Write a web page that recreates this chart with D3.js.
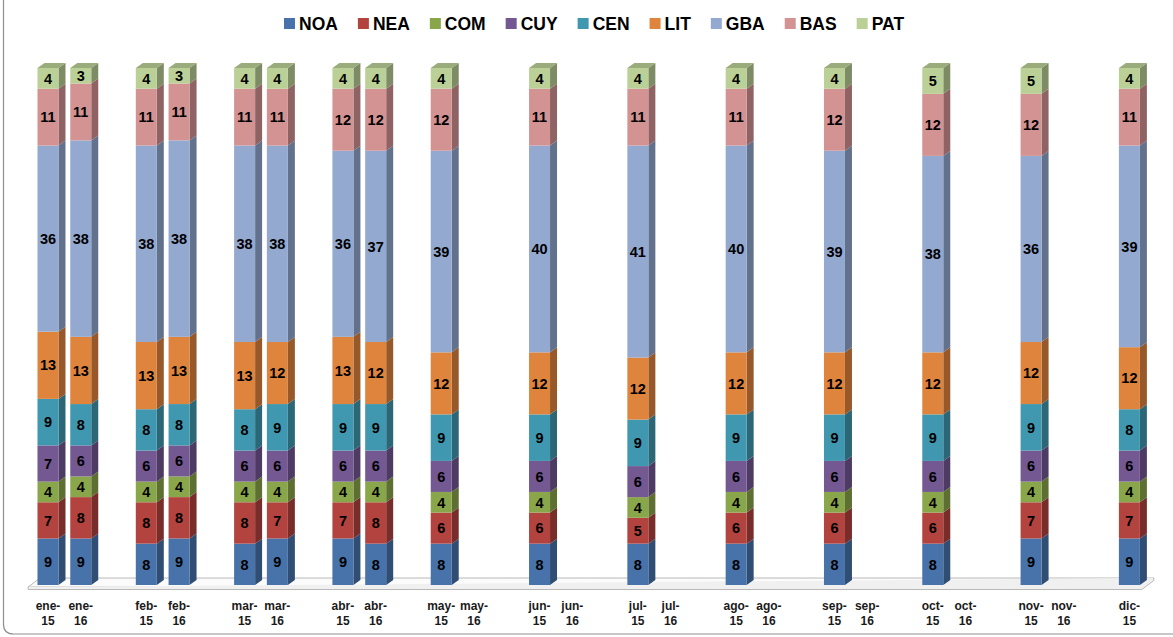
<!DOCTYPE html>
<html>
<head>
	<meta charset="utf-8">
	<title>regiones</title>
	<style>
		body{ margin:0; background:#fff; }
		text{ font-family:"Liberation Sans", Arial, sans-serif; }
		.lbl{ font-size:14.5px; font-weight:bold; fill:#000; }
		.xlab{ font-size:12px; font-weight:bold; fill:#1a1a1a; }
		.leg{ font-size:17.5px; font-weight:bold; fill:#000; }
	</style>
	<script src="https://d3js.org/d3.v7.min.js"></script>
</head>
<body>
<svg width="1173" height="637"></svg>
<script>

	// categories (empty -16 months have no bar)
	var categories = ["ene-15","ene-16","feb-15","feb-16","mar-15","mar-16","abr-15","abr-16",
	                  "may-15","may-16","jun-15","jun-16","jul-15","jul-16","ago-15","ago-16",
	                  "sep-15","sep-16","oct-15","oct-16","nov-15","nov-16","dic-15"];
	var months = ["ene","feb","mar","abr","may","jun","jul","ago","sep","oct","nov","dic"];
	var years = ["15","16"];

	var seriesNames = ["NOA","NEA","COM","CUY","CEN","LIT","GBA","BAS","PAT"];
	var seriesColors = ["#4773AA","#B3433F","#8AA64A","#735892","#3F98B0","#DF843C","#93A9D0","#D49393","#BBD097"];

	var NOA = [9,9,8,9,8,9,9,8,8,null,8,null,8,null,8,null,8,null,8,null,9,null,9];
	var NEA = [7,8,8,8,8,7,7,8,6,null,6,null,5,null,6,null,6,null,6,null,7,null,7];
	var COM = [4,4,4,4,4,4,4,4,4,null,4,null,4,null,4,null,4,null,4,null,4,null,4];
	var CUY = [7,6,6,6,6,6,6,6,6,null,6,null,6,null,6,null,6,null,6,null,6,null,6];
	var CEN = [9,8,8,8,8,9,9,9,9,null,9,null,9,null,9,null,9,null,9,null,9,null,8];
	var LIT = [13,13,13,13,13,12,13,12,12,null,12,null,12,null,12,null,12,null,12,null,12,null,12];
	var GBA = [36,38,38,38,38,38,36,37,39,null,40,null,41,null,40,null,39,null,38,null,36,null,39];
	var BAS = [11,11,11,11,11,11,12,12,12,null,11,null,11,null,11,null,12,null,12,null,12,null,11];
	var PAT = [4,3,4,3,4,4,4,4,4,null,4,null,4,null,4,null,4,null,5,null,5,null,4];

	var seriesValues = [NOA,NEA,COM,CUY,CEN,LIT,GBA,BAS,PAT];

	var svg = d3.select("svg"),
	    margin = {top:68, left:31.6, bottom:585},
	    slot = 32.77,
	    barW = 21,
	    dx = 7, dy = 5;

	// chart border (rounded corner bottom-left, other edges off the picture)
	svg.append("path")
	   .attr("d","M3.5,-10 L3.5,624 Q3.5,634 13.5,634 L1190,634")
	   .attr("fill","none")
	   .attr("stroke","#8f8f8f")
	   .attr("stroke-width",1.2);

	var x0 = d3.scaleBand().domain(months).range([margin.left, margin.left + slot*3*months.length]);
	var x1 = d3.scaleBand().domain(years.concat(["_"])).range([0, x0.bandwidth()]);
	var y = d3.scaleLinear().domain([0,1]).range([margin.bottom, margin.top]);

	function cx(cat){
		var p = cat.split("-");
		return x0(p[0]) + x1(p[1]) + x1.bandwidth()/2;
	}

	// floor
	var fl = margin.left - 3.5,
	    fr = cx("dic-15") + x1.bandwidth()/2 - 4,
	    fy = margin.bottom + 2, fdx = 12, fdy = 9;
	var floor = svg.append("g").attr("stroke","#b8b8b8").attr("stroke-width",1);
	floor.append("path")
	     .attr("d","M"+fl+","+fy+" L"+(fl+fdx)+","+(fy-fdy)+" L"+(fr+fdx)+","+(fy-fdy)+" L"+fr+","+fy+" Z")
	     .attr("fill","#fbfbfb");
	floor.append("path")
	     .attr("d","M"+fl+","+fy+" L"+fl+","+(fy+2.5)+" L"+fr+","+(fy+2.5)+" L"+(fr+fdx)+","+(fy-fdy+2.5)+" L"+(fr+fdx)+","+(fy-fdy))
	     .attr("fill","#f0f0f0");

	// table for stacking
	var rows = categories.map(function(c,i){
		var r = {cat:c};
		seriesNames.forEach(function(s,j){ r[s] = seriesValues[j][i] || 0; });
		return r;
	}).filter(function(r){ return seriesNames.some(function(s){ return r[s] > 0; }); });

	var stack = d3.stack().keys(seriesNames).offset(d3.stackOffsetExpand);
	var layers = stack(rows);

	var bars = svg.append("g");
	layers.forEach(function(layer, li){
		var col = seriesColors[li],
		    side = d3.color(col).darker(1.1).formatHex(),
		    top = d3.color(col).darker(0.55).formatHex();
		var g = bars.append("g");
		layer.forEach(function(d){
			var x = cx(d.data.cat) - barW/2,
			    y0 = y(d[0]), y1 = y(d[1]);
			g.append("path")
			 .attr("d","M"+(x+barW)+","+y1+" L"+(x+barW+dx)+","+(y1-dy)+" L"+(x+barW+dx)+","+(y0-dy)+" L"+(x+barW)+","+y0+" Z")
			 .attr("fill",side);
			g.append("rect")
			 .attr("x",x).attr("y",y1)
			 .attr("width",barW).attr("height",y0-y1)
			 .attr("fill",col);
			if(li === layers.length-1){
				g.append("path")
				 .attr("d","M"+x+","+y1+" L"+(x+dx)+","+(y1-dy)+" L"+(x+barW+dx)+","+(y1-dy)+" L"+(x+barW)+","+y1+" Z")
				 .attr("fill",top);
			}
			g.append("text")
			 .attr("class","lbl")
			 .attr("x",x+barW/2)
			 .attr("y",(y0+y1)/2)
			 .attr("dy","0.36em")
			 .attr("text-anchor","middle")
			 .text(d.data[seriesNames[li]]);
		});
	});

	// x labels
	var xl = svg.append("g");
	categories.forEach(function(c){
		var p = c.split("-"),
		    t = xl.append("text").attr("class","xlab").attr("text-anchor","middle");
		t.append("tspan").attr("x",cx(c)).attr("y",610).text(p[0]+"-");
		t.append("tspan").attr("x",cx(c)).attr("y",625).text(p[1]);
	});

	// legend
	var leg = svg.append("g"), lx = 284;
	seriesNames.forEach(function(s,i){
		leg.append("rect")
		   .attr("x",lx).attr("y",18)
		   .attr("width",11).attr("height",11)
		   .attr("fill",seriesColors[i]);
		var t = leg.append("text")
		   .attr("class","leg")
		   .attr("x",lx+15).attr("y",30)
		   .text(s);
		lx += 15 + t.node().getComputedTextLength() + 20;
	});

</script>
</body>
</html>
